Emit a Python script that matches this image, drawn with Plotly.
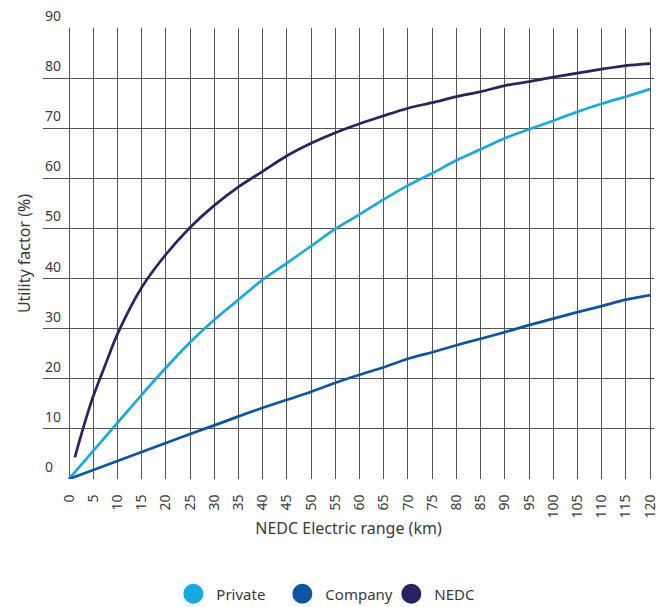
import plotly.graph_objects as go

# Data
range_km = [0, 5, 10, 15, 20, 25, 30, 35, 40, 45, 50, 55, 60, 65, 70, 75, 80,
            85, 90, 95, 100, 105, 110, 115, 120]
private_uf = [0, 5.6, 11.2, 16.8, 22.2, 27.3, 31.8, 35.8, 39.8, 43.1, 46.5, 49.9,
              52.8, 55.8, 58.6, 61.0, 63.6, 65.8, 68.0, 69.8, 71.5, 73.3, 74.9,
              76.3, 77.8]
company_uf = [0, 1.8, 3.6, 5.4, 7.2, 9.0, 10.7, 12.5, 14.2, 15.8, 17.4, 19.2,
              20.8, 22.3, 24.0, 25.3, 26.7, 28.0, 29.3, 30.7, 32.0, 33.3, 34.5,
              35.8, 36.7]
nedc_km = [1.2, 3, 5, 7.5, 10, 15, 20, 25, 30, 35, 40, 45, 50, 55,
           60, 65, 70, 75, 80, 85, 90, 95, 100, 105, 110, 115, 120]
nedc_uf = [4.3, 10.4, 16.5, 22.8, 28.9, 38.2, 44.8, 50.2, 54.6,
           58.3, 61.4, 64.5, 67.0, 69.1, 70.9, 72.5, 74.0, 75.1, 76.3, 77.3, 78.5,
           79.3, 80.2, 81.0, 81.8, 82.5, 82.9]

x_ticks = list(range(0, 121, 5))
y_ticks = list(range(0, 91, 10))

names = ["Private", "Company", "NEDC"]
colors = ["#17a9e1", "#0d55a3", "#262462"]

FONT = "Noto Sans"
TXT = "#3a3a3a"
GRID = "#555555"

fig = go.Figure()
series = [(range_km, private_uf), (range_km, company_uf), (nedc_km, nedc_uf)]
for (xs, ys), name, col in zip(series, names, colors):
    fig.add_trace(go.Scatter(x=xs, y=ys, mode="lines", name=name,
                             line=dict(color=col, width=2.7, shape="spline", smoothing=0.8),
                             showlegend=False, hoverinfo="x+y"))
# legend entries with round markers
for name, col in zip(names, colors):
    fig.add_trace(go.Scatter(x=[None], y=[None], mode="markers", name=name,
                             marker=dict(color=col, size=16, symbol="circle",
                                         line=dict(color=col, width=4)),
                             showlegend=True))

# y tick labels sit above their grid lines, left-aligned at the plot's left edge
for v in y_ticks:
    fig.add_annotation(x=0, xref="paper", y=v, yref="y", text=str(v),
                       xanchor="left", yanchor="bottom", yshift=1, showarrow=False,
                       font=dict(family=FONT, size=14, color=TXT))

fig.update_layout(
    width=660, height=607,
    margin=dict(l=43, r=6, t=28, b=128, autoexpand=False),
    paper_bgcolor="white", plot_bgcolor="white",
    font=dict(family=FONT, size=14, color=TXT),
    legend=dict(orientation="h", x=0.476, xanchor="center",
                yref="container", y=0.0214, yanchor="middle",
                font=dict(family=FONT, size=15, color=TXT), itemsizing="trace",
                traceorder="normal", entrywidth=58, itemwidth=36),
)
fig.update_xaxes(
    range=[-5.37, 120.8], tickvals=x_ticks, ticktext=[str(v) for v in x_ticks],
    tickangle=-90, showgrid=True, gridcolor=GRID, gridwidth=1,
    zeroline=False, showline=False, ticks="outside", ticklen=9, tickcolor="rgba(0,0,0,0)",
    tickfont=dict(family=FONT, size=14, color=TXT), automargin=False,
    ticklabeloverflow="allow",
    title=dict(text="NEDC Electric range (km)", font=dict(family=FONT, size=16, color=TXT),
               standoff=5),
)
fig.update_yaxes(
    range=[0, 90], tickvals=y_ticks, showticklabels=False, showgrid=True,
    gridcolor=GRID, gridwidth=1, zeroline=False, showline=False, automargin=False,
    title=dict(text="Utility factor (%)", font=dict(family=FONT, size=16, color=TXT),
               standoff=7),
)

fig.write_html("out.html", config={"displayModeBar": False},
               post_script="document.body.style.margin='0';")
